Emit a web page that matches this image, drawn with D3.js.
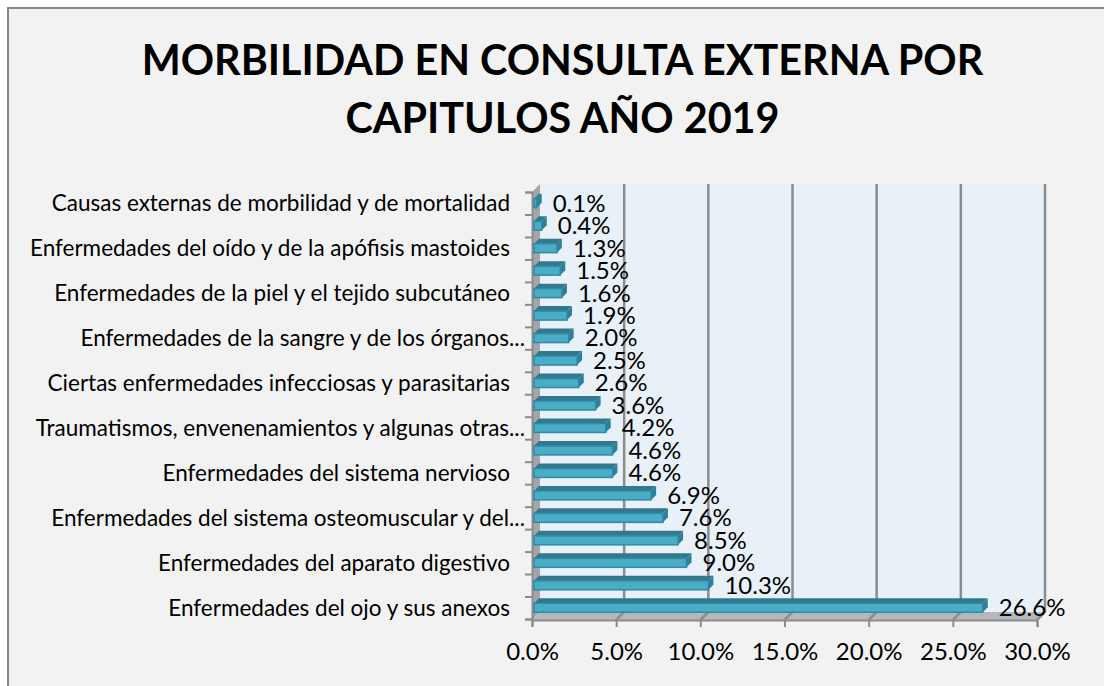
<!DOCTYPE html>
<html>
<head>
<meta charset="utf-8">
<script src="https://cdnjs.cloudflare.com/ajax/libs/d3/7.8.5/d3.min.js"></script>
<style>
html,body{margin:0;padding:0;background:#fff}
svg{display:block}
text{font-family:Lato,"Open Sans",sans-serif;fill:#000}
</style>
</head>
<body>
<svg id="chart" width="1104" height="686"></svg>
<script>
const titleLines = ["MORBILIDAD EN CONSULTA EXTERNA POR", "CAPITULOS AÑO 2019"]
// only every other category label is shown in the picture, the rest can't be read
const categories = [
  "Causas externas de morbilidad y de mortalidad", "",
  "Enfermedades del oído y de la apófisis mastoides", "",
  "Enfermedades de la piel y el tejido subcutáneo", "",
  "Enfermedades de la sangre y de los órganos...", "",
  "Ciertas enfermedades infecciosas y parasitarias", "",
  "Traumatismos, envenenamientos y algunas otras...", "",
  "Enfermedades del sistema nervioso", "",
  "Enfermedades del sistema osteomuscular y del...", "",
  "Enfermedades del aparato digestivo", "",
  "Enfermedades del ojo y sus anexos"
]
const values = [0.1,0.4,1.3,1.5,1.6,1.9,2.0,2.5,2.6,3.6,4.2,4.6,4.6,6.9,7.6,8.5,9.0,10.3,26.6]
const xTicks = [0,5,10,15,20,25,30]

const fmt = d3.format(".1f")
const depth = 8 // 3d offset of the back wall
const barDepth = 5
const svg = d3.select("#chart")

let x = d3.scaleLinear().domain([0,30]).range([532,1037])
let y = d3.scaleBand().domain(d3.range(categories.length)).range([192,619]).paddingInner(0.6).paddingOuter(0.3)
let yTick = d3.scaleLinear().domain([0,categories.length]).range([192,619])
const plotTop = y.range()[0], plotBottom = y.range()[1]+1

// chart frame, runs off the right and bottom of the picture
svg.append("rect").attr("x",8).attr("y",8).attr("width",1110).attr("height",690)
  .attr("fill","#f2f2f2").attr("stroke","#868686").attr("stroke-width",2)

// title
svg.selectAll(".title").data(titleLines).enter().append("text")
  .attr("class","title")
  .attr("x",562.5).attr("y",function(d,i){return 75+i*58})
  .attr("text-anchor","middle")
  .style("font-size","41.3px").style("font-weight","bold")
  .text(function(d){return d})

// walls
svg.append("rect").attr("x",x(0)+depth).attr("y",plotTop-depth)
  .attr("width",x(30)-x(0)).attr("height",plotBottom-plotTop)
  .attr("fill","#e8f0f8")
svg.append("polygon")
  .attr("points",[[x(0),plotTop],[x(0)+depth,plotTop-depth],[x(0)+depth,plotBottom-depth],[x(0),plotBottom]].join(" "))
  .attr("fill","#a3a5a8")
svg.append("polygon")
  .attr("points",[[x(0),plotBottom],[x(0)+depth,plotBottom-depth],[x(30)+depth,plotBottom-depth],[x(30),plotBottom]].join(" "))
  .attr("fill","#b4b8bb")

// gridlines on back wall and floor
svg.selectAll(".grid").data(xTicks.slice(1)).enter().append("polyline")
  .attr("class","grid")
  .attr("points",function(d){return [[x(d)+depth,plotTop-depth],[x(d)+depth,plotBottom-depth],[x(d),plotBottom]].join(" ")})
  .attr("fill","none").attr("stroke","#8c8c8c").attr("stroke-width",2.5)

// axes
let xAxis = d3.axisBottom(x).tickValues(xTicks).tickSize(7).tickPadding(16)
  .tickFormat(function(d){return fmt(d)+"%"})
let gx = svg.append("g").attr("transform","translate(0,"+plotBottom+")").call(xAxis)
gx.selectAll("text").style("font-size","24px").attr("fill","#000")
gx.selectAll("line,path").attr("stroke","#8c8c8c").attr("stroke-width",2)

let yAxis = d3.axisLeft(yTick).ticks(categories.length).tickSize(7).tickFormat("")
let gy = svg.append("g").attr("transform","translate("+x(0)+",0)").call(yAxis)
gy.selectAll("line,path").attr("stroke","#8c8c8c").attr("stroke-width",2)

// category labels, the cut ones with "..." reach further right
svg.selectAll(".cat").data(categories).enter().append("text")
  .attr("class","cat")
  .attr("x",function(d){return d.endsWith("...") ? 525 : 510})
  .attr("y",function(d,i){return y(i)+y.bandwidth()/2})
  .attr("dy",".35em")
  .attr("text-anchor","end")
  .style("font-size","22.5px")
  .text(function(d){return d})

// bars: top face, side face, front face
const rows = values.map(function(v,i){return {idx:i,val:v}})
let bars = svg.selectAll(".bar").data(rows).enter().append("g").attr("class","bar")
bars.append("polygon")
  .attr("points",function(d){
    let l=x(0)+2, r=x(d.val)+3, t=y(d.idx)
    return [[l,t],[l+barDepth,t-barDepth],[r+barDepth,t-barDepth],[r,t]].join(" ")})
  .attr("fill","#33788f")
bars.append("polygon")
  .attr("points",function(d){
    let r=x(d.val)+3, t=y(d.idx), b=t+y.bandwidth()
    return [[r,t],[r+barDepth,t-barDepth],[r+barDepth,b-barDepth],[r,b]].join(" ")})
  .attr("fill","#2f7f99")
bars.append("rect")
  .attr("x",x(0)+2)
  .attr("y",function(d){return y(d.idx)})
  .attr("width",function(d){return x(d.val)+3-(x(0)+2)})
  .attr("height",y.bandwidth())
  .attr("fill","#4bacc6").attr("stroke","#2f8aa5").attr("stroke-width",1.5)

// data labels
svg.selectAll(".val").data(rows).enter().append("text")
  .attr("class","val")
  .attr("x",function(d){return x(d.val)+19})
  .attr("y",function(d){return y(d.idx)+y.bandwidth()/2})
  .attr("dy",".35em")
  .style("font-size","24px")
  .text(function(d){return fmt(d.val)+"%"})
</script>
</body>
</html>
